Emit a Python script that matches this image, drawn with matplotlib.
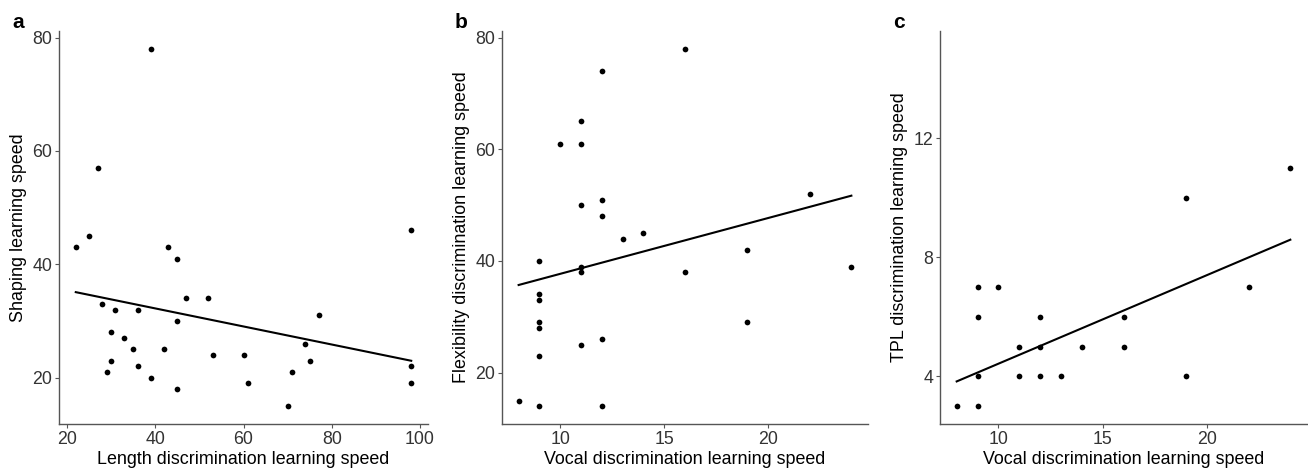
import matplotlib
matplotlib.use("Agg")
import matplotlib.pyplot as plt

plt.rcParams['font.family'] = ['Liberation Sans', 'DejaVu Sans']

# panel a: length discrimination vs shaping
a_x = [22, 25, 27, 39, 28, 31, 36, 30, 33, 35, 30, 29, 36, 39, 42, 43, 45, 47,
       45, 45, 52, 53, 60, 61, 70, 71, 74, 75, 77, 98, 98, 98]
a_y = [43, 45, 57, 78, 33, 32, 32, 28, 27, 25, 23, 21, 22, 20, 25, 43, 41, 34,
       30, 18, 34, 24, 24, 19, 15, 21, 26, 23, 31, 46, 22, 19]
a_fit_x = [22, 98]
a_fit_y = [35.1, 23.0]

# panel b: vocal vs flexibility
b_x = [8, 9, 9, 9, 9, 9, 9, 9, 10, 11, 11, 11, 11, 11, 11, 12, 12, 12, 12, 12,
       13, 14, 16, 16, 19, 19, 22, 24]
b_y = [15, 40, 34, 33, 29, 28, 23, 14, 61, 65, 61, 50, 39, 38, 25, 74, 51, 48,
       26, 14, 44, 45, 78, 38, 42, 29, 52, 39]
b_fit_x = [8, 24]
b_fit_y = [35.7, 51.7]

# panel c: vocal vs TPL
c_x = [8, 9, 9, 9, 9, 10, 11, 11, 12, 12, 12, 13, 14, 16, 16, 19, 19, 22, 24]
c_y = [3, 3, 4, 6, 7, 7, 4, 5, 4, 5, 6, 4, 5, 5, 6, 4, 10, 7, 11]
c_fit_x = [8, 24]
c_fit_y = [3.83, 8.59]

panels = [
    dict(x=a_x, y=a_y, fx=a_fit_x, fy=a_fit_y, tag='a',
         xlab='Length discrimination learning speed', ylab='Shaping learning speed',
         xlim=(18.2, 101.8), ylim=(11.85, 81.15),
         xt=[20, 40, 60, 80, 100], yt=[20, 40, 60, 80], left=59, right=428),
    dict(x=b_x, y=b_y, fx=b_fit_x, fy=b_fit_y, tag='b',
         xlab='Vocal discrimination learning speed',
         ylab='Flexibility discrimination learning speed',
         xlim=(7.2, 24.8), ylim=(10.8, 81.2),
         xt=[10, 15, 20], yt=[20, 40, 60, 80], left=502, right=868),
    dict(x=c_x, y=c_y, fx=c_fit_x, fy=c_fit_y, tag='c',
         xlab='Vocal discrimination learning speed',
         ylab='TPL discrimination learning speed',
         xlim=(7.2, 24.8), ylim=(2.4, 15.6),
         xt=[10, 15, 20], yt=[4, 8, 12], left=940, right=1307),
]

W, H = 1308, 469
fig = plt.figure(figsize=(W / 100, H / 100), dpi=100)
top, bottom = 31, 424

for p in panels:
    ax = fig.add_axes([p['left'] / W, 1 - bottom / H,
                       (p['right'] - p['left']) / W, (bottom - top) / H])
    ax.scatter(p['x'], p['y'], s=17, color='black', zorder=3, linewidths=0)
    ax.plot(p['fx'], p['fy'], color='black', lw=1.5)
    ax.set_xlim(p['xlim'])
    ax.set_ylim(p['ylim'])
    ax.set_xticks(p['xt'])
    ax.set_yticks(p['yt'])
    for s in ['top', 'right']:
        ax.spines[s].set_visible(False)
    for s in ['left', 'bottom']:
        ax.spines[s].set_color('#555555')
        ax.spines[s].set_linewidth(1.0)
    ax.tick_params(length=3, width=0.8, color='#555555', labelsize=12.8,
                   labelcolor='#333333', pad=2)
    ax.set_xlabel(p['xlab'], fontsize=12.9, labelpad=2)
    ax.set_ylabel(p['ylab'], fontsize=12.9, labelpad=4)
    fig.text((p['left'] - 47) / W, 1 - 22 / H, p['tag'], fontsize=15,
             fontweight='bold', va='center')

fig.savefig('out.png', dpi=100)
